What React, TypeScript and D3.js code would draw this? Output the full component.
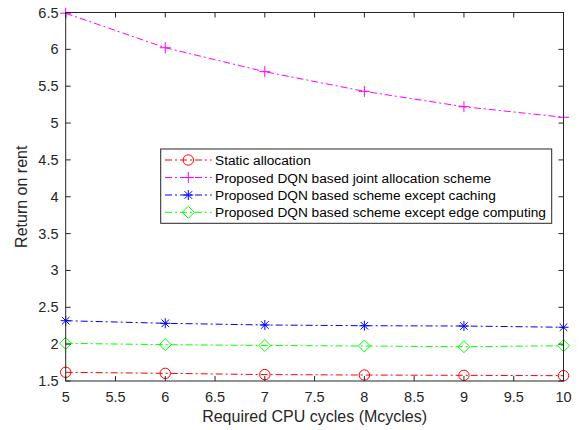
import React from "react";
import * as d3 from "d3";

const xValues = [5, 6, 7, 8, 9, 10];
const staticAlloc = [1.618, 1.604, 1.587, 1.581, 1.577, 1.572];
const jointDQN = [6.49, 6.022, 5.697, 5.43, 5.222, 5.078];
const exceptCaching = [2.318, 2.283, 2.26, 2.25, 2.246, 2.229];
const exceptEdge = [2.011, 1.993, 1.982, 1.975, 1.965, 1.979];
const seriesNames = [
  "Static allocation",
  "Proposed DQN based joint allocation scheme",
  "Proposed DQN based scheme except caching",
  "Proposed DQN based scheme except edge computing",
];
const xTicks = [5, 5.5, 6, 6.5, 7, 7.5, 8, 8.5, 9, 9.5, 10];
const yTicks = [1.5, 2, 2.5, 3, 3.5, 4, 4.5, 5, 5.5, 6, 6.5];

const W = 583, H = 430;
const L = 65.7, R = 563.5, T = 12.5, B = 381;
const AX = "#262626";
const FONT = "'Liberation Sans', Arial, Helvetica, sans-serif";

function markerPath(kind: string, cx: number, cy: number): string {
  if (kind === "circle") {
    const r = 5.2;
    return `M${cx - r},${cy}a${r},${r} 0 1,0 ${2 * r},0a${r},${r} 0 1,0 ${-2 * r},0`;
  }
  if (kind === "plus") {
    const s = 5.5;
    return `M${cx - s},${cy}H${cx + s}M${cx},${cy - s}V${cy + s}`;
  }
  if (kind === "star") {
    const s = 5, d = 3.8;
    return `M${cx - s},${cy}H${cx + s}M${cx},${cy - s}V${cy + s}M${cx - d},${cy - d}L${cx + d},${cy + d}M${cx - d},${cy + d}L${cx + d},${cy - d}`;
  }
  const s = 6;
  return `M${cx},${cy - s}L${cx + s},${cy}L${cx},${cy + s}L${cx - s},${cy}Z`;
}

export default function App() {
  const x = d3.scaleLinear().domain([5, 10]).range([L, R]);
  const y = d3.scaleLinear().domain([1.5, 6.5]).range([B, T]);
  const series = [
    { name: seriesNames[0], vals: staticAlloc, color: "#ff0000", m: "circle" },
    { name: seriesNames[1], vals: jointDQN, color: "#ff00ff", m: "plus" },
    { name: seriesNames[2], vals: exceptCaching, color: "#0000ff", m: "star" },
    { name: seriesNames[3], vals: exceptEdge, color: "#00ff00", m: "diamond" },
  ];
  const line = d3
    .line<number>()
    .x((_, i) => x(xValues[i]))
    .y((v) => y(v));
  const dash = "7,3,2,3";
  const legX = 160.7, legY = 149, legW = 391, legH = 74.3;
  const rowY = [160, 177.5, 195, 212.3];

  return (
    <svg
      width={W}
      height={H}
      style={{ position: "absolute", left: 0, top: 0, background: "#fff" }}
      fontFamily={FONT}
    >
      <rect x={0} y={0} width={W} height={H} fill="#fff" />
      {/* series */}
      {series.map((s) => (
        <g key={s.name}>
          <path d={line(s.vals) || ""} fill="none" stroke={s.color} strokeWidth={1} strokeDasharray={dash} />
          {s.vals.map((v, i) => (
            <path key={i} d={markerPath(s.m, x(xValues[i]), y(v))} fill="none" stroke={s.color} strokeWidth={1} />
          ))}
        </g>
      ))}
      {/* axes box */}
      <rect x={L} y={T} width={R - L} height={B - T} fill="none" stroke={AX} strokeWidth={1} />
      {xTicks.map((t) => (
        <g key={"x" + t}>
          <line x1={x(t)} x2={x(t)} y1={B} y2={B - 5} stroke={AX} />
          <line x1={x(t)} x2={x(t)} y1={T} y2={T + 5} stroke={AX} />
          <text x={x(t)} y={402} textAnchor="middle" fontSize={14.5} fill={AX}>
            {t}
          </text>
        </g>
      ))}
      {yTicks.map((t) => (
        <g key={"y" + t}>
          <line x1={L} x2={L + 5} y1={y(t)} y2={y(t)} stroke={AX} />
          <line x1={R} x2={R - 5} y1={y(t)} y2={y(t)} stroke={AX} />
          <text x={58.5} y={y(t) + 5} textAnchor="end" fontSize={14.5} fill={AX}>
            {t}
          </text>
        </g>
      ))}
      <text x={(L + R) / 2} y={422} textAnchor="middle" fontSize={16} fill={AX}>
        Required CPU cycles (Mcycles)
      </text>
      <text
        transform={`translate(27,${(T + B) / 2}) rotate(-90)`}
        textAnchor="middle"
        fontSize={16}
        fill={AX}
      >
        Return on rent
      </text>
      {/* legend */}
      <rect x={legX} y={legY} width={legW} height={legH} fill="#fff" stroke={AX} strokeWidth={1} />
      {series.map((s, i) => (
        <g key={"leg" + i}>
          <line x1={165} x2={211.7} y1={rowY[i]} y2={rowY[i]} stroke={s.color} strokeDasharray={dash} />
          <path d={markerPath(s.m, 188.3, rowY[i])} fill="none" stroke={s.color} />
          <text x={215} y={rowY[i] + 5} fontSize={13.7} fill="#000">
            {s.name}
          </text>
        </g>
      ))}
    </svg>
  );
}
